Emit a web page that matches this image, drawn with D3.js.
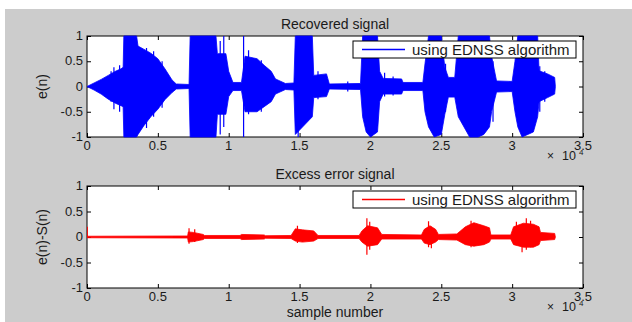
<!DOCTYPE html>
<html>
<head>
<meta charset="utf-8">
<script src="https://cdn.jsdelivr.net/npm/d3@7/dist/d3.min.js"></script>
<style>
    body { margin: 0; background: #ffffff; }
    text { font-family: Arial, 'Liberation Sans', sans-serif; fill: #1a1a1a; }
</style>
</head>
<body>
<svg id="chart" width="632" height="322"></svg>
<script>
// x ticks (in units of 1e4 samples) and y ticks
const xTicks = [0, 0.5, 1, 1.5, 2, 2.5, 3, 3.5];
const yTicks = [-1, -0.5, 0, 0.5, 1];

// recovered signal envelope (sample, upper, lower)
const recX = [0, 500, 1000, 1500, 2000, 2400, 2550, 2600, 3500, 3600, 4000, 4500, 5000, 5500, 6000, 6300, 7200, 7280,
    9100, 9200, 9800, 10000, 10300, 10900, 11150, 12000, 12500, 13000, 13300, 14000, 14600, 14700, 15900, 16000, 16900,
    17100, 19300, 19450, 19700, 20000, 20500, 20650, 20900, 22200, 22300, 23700, 23850, 24100, 24500, 25000, 25250,
    25500, 25950, 26200, 26600, 27000, 27600, 28000, 28400, 28550, 28900, 30000, 30200, 30400, 30700, 31500, 31800,
    31900, 32500, 33000, 33050];
const recTop = [0, 0.07, 0.14, 0.22, 0.3, 0.35, 0.38, 1, 1, 0.8, 0.74, 0.66, 0.55, 0.35, 0.13, 0.05, 0.04, 1,
    1, 0.65, 0.65, 0.3, 0.08, 0.08, 0.6, 0.55, 0.42, 0.3, 0.15, 0.06, 0.07, 1, 1, 0.22, 0.25,
    0.05, 0.06, 1, 1, 1, 1, 0.3, 0.16, 0.15, 0.08, 0.08, 0.45, 1, 1, 1, 0.38,
    0.18, 0.18, 1, 1, 1, 1, 1, 1, 0.6, 0.11, 0.1, 0.5, 1, 1, 1, 1,
    0.31, 0.25, 0.18, 0];
const recBottom = [0, -0.07, -0.15, -0.25, -0.33, -0.38, -0.4, -1, -1, -0.95, -0.78, -0.6, -0.45, -0.26, -0.12, -0.05, -0.04, -1,
    -1, -0.55, -0.55, -0.2, -0.08, -0.08, -0.5, -0.5, -0.4, -0.3, -0.15, -0.06, -0.07, -0.95, -0.6, -0.22, -0.2,
    -0.05, -0.06, -0.6, -0.9, -1, -0.9, -0.3, -0.15, -0.15, -0.08, -0.08, -0.5, -0.8, -1, -0.95, -0.55,
    -0.21, -0.21, -0.6, -0.8, -1, -1, -0.95, -0.8, -0.5, -0.11, -0.1, -0.5, -0.8, -1, -0.9, -0.6,
    -0.3, -0.22, -0.15, 0];
// isolated spikes in the recovered signal (sample, lower, upper)
const recSpikes = [[1700, -0.3, 0.3], [1900, -0.45, 0.38], [2300, -0.5, 0.42], [4200, -0.82, 0.76], [4700, -0.6, 0.7],
    [5300, -0.42, 0.5], [8950, -0.8, 0.9], [9400, -0.95, 0.9], [9650, -0.8, 1], [11050, -1, 1], [11400, -0.55, 0.72],
    [12300, -0.5, 0.52], [14900, -1, 1], [16300, -0.25, 0.3], [18400, -0.1, 0.1], [21000, -0.2, 0.27],
    [21600, -0.18, 0.2], [25300, -0.5, 0.45], [28650, -0.7, 0.5], [31950, -0.5, 0.4], [32300, -0.3, 0.3]];

// excess error envelope (sample, upper, lower)
const errX = [0, 7100, 7150, 7500, 8200, 8300, 10800, 10900, 12500, 12600, 14400, 14700, 15200, 16000, 16300, 19200,
    19400, 19800, 20500, 20800, 23600, 23800, 24200, 24600, 24800, 26100, 26700, 27300, 28000, 28400, 28500, 29900,
    30100, 30800, 31500, 31900, 32000, 33000, 33050];
const errTop = [0.015, 0.02, 0.1, 0.09, 0.05, 0.03, 0.03, 0.05, 0.04, 0.025, 0.03, 0.16, 0.14, 0.12, 0.03, 0.03,
    0.12, 0.22, 0.18, 0.05, 0.04, 0.15, 0.22, 0.15, 0.05, 0.06, 0.2, 0.28, 0.22, 0.18, 0.04, 0.04,
    0.2, 0.27, 0.25, 0.2, 0.09, 0.07, 0];
const errBottom = [-0.015, -0.02, -0.1, -0.09, -0.05, -0.03, -0.03, -0.05, -0.04, -0.025, -0.03, -0.08, -0.1, -0.08, -0.03, -0.03,
    -0.1, -0.18, -0.15, -0.04, -0.04, -0.12, -0.15, -0.1, -0.05, -0.06, -0.15, -0.18, -0.15, -0.1, -0.04, -0.04,
    -0.15, -0.2, -0.2, -0.15, -0.07, -0.05, 0];
const errSpikes = [[20, -0.02, 0.2], [7200, -0.13, 0.17], [7600, -0.1, 0.15], [14850, -0.12, 0.22], [19750, -0.35, 0.37],
    [19950, -0.25, 0.3], [24100, -0.2, 0.31], [24300, -0.22, 0.2], [27100, -0.2, 0.32], [30300, -0.15, 0.3],
    [30700, -0.3, 0.2], [31000, -0.25, 0.37], [31300, -0.2, 0.32]];

const svg = d3.select('#chart');

// matlab figure background
svg.append('rect')
    .attr('x', 5)
    .attr('y', 9)
    .attr('width', 627)
    .attr('height', 313)
    .attr('fill', '#cccccc');

function drawPanel(opts) {
    const { top, bottom, xs, upper, lower, spikes, color, title, ylabel } = opts;
    const left = 87, right = 583;

    const x = d3.scaleLinear().domain([0, 35000]).range([left, right]);
    const y = d3.scaleLinear().domain([-1, 1]).range([bottom, top]);

    const g = svg.append('g');

    g.append('rect')
        .attr('x', left)
        .attr('y', top)
        .attr('width', right - left)
        .attr('height', bottom - top)
        .attr('fill', '#ffffff');

    // ticks on all four sides, pointing inward
    const xAxisB = d3.axisBottom(x).tickValues(xTicks.map(d => d * 1e4)).tickSize(-4).tickFormat('');
    const xAxisT = d3.axisTop(x).tickValues(xTicks.map(d => d * 1e4)).tickSize(-4).tickFormat('');
    const yAxisL = d3.axisLeft(y).tickValues(yTicks).tickSize(-4).tickFormat('');
    const yAxisR = d3.axisRight(y).tickValues(yTicks).tickSize(-4).tickFormat('');

    [[xAxisB, `translate(0,${bottom})`], [xAxisT, `translate(0,${top})`],
     [yAxisL, `translate(${left},0)`], [yAxisR, `translate(${right},0)`]].forEach(([ax, tr]) => {
        const a = g.append('g').attr('transform', tr).call(ax);
        a.select('.domain').remove();
        a.selectAll('line').attr('stroke', '#000');
    });

    // tick labels
    g.selectAll('text.xt')
        .data(xTicks)
        .enter()
        .append('text')
        .attr('class', 'xt')
        .attr('x', d => x(d * 1e4))
        .attr('y', bottom + 12.5)
        .attr('text-anchor', 'middle')
        .attr('font-size', 13)
        .text(d => d);

    g.selectAll('text.yt')
        .data(yTicks)
        .enter()
        .append('text')
        .attr('class', 'yt')
        .attr('x', left - 4)
        .attr('y', d => y(d) + 4)
        .attr('text-anchor', 'end')
        .attr('font-size', 13)
        .text(d => d);

    // box
    g.append('rect')
        .attr('x', left)
        .attr('y', top)
        .attr('width', right - left)
        .attr('height', bottom - top)
        .attr('fill', 'none')
        .attr('stroke', '#000')
        .attr('stroke-width', 1);

    // signal
    const clipId = 'clip-' + top;
    svg.append('clipPath')
        .attr('id', clipId)
        .append('rect')
        .attr('x', left)
        .attr('y', top - 1.5)
        .attr('width', right - left)
        .attr('height', bottom - top + 3);

    const sig = g.append('g').attr('clip-path', `url(#${clipId})`);

    const area = d3.area()
        .x(d => x(xs[d]))
        .y0(d => y(lower[d]))
        .y1(d => y(upper[d]));

    sig.append('path')
        .attr('d', area(d3.range(xs.length)))
        .attr('fill', color)
        .attr('stroke', color)
        .attr('stroke-width', 0.8);

    sig.selectAll('line.spike')
        .data(spikes)
        .enter()
        .append('line')
        .attr('class', 'spike')
        .attr('x1', d => x(d[0]))
        .attr('x2', d => x(d[0]))
        .attr('y1', d => y(d[1]))
        .attr('y2', d => y(d[2]))
        .attr('stroke', color)
        .attr('stroke-width', 1.2);

    // title
    g.append('text')
        .attr('x', (left + right) / 2)
        .attr('y', top - 7)
        .attr('text-anchor', 'middle')
        .attr('font-size', 14)
        .text(title);

    // y label
    g.append('text')
        .attr('transform', `translate(47,${(top + bottom) / 2}) rotate(-90)`)
        .attr('text-anchor', 'middle')
        .attr('font-size', 14)
        .text(ylabel);

    // x 10^4 exponent, under the last tick label
    g.append('text')
        .attr('x', 547)
        .attr('y', bottom + 23)
        .attr('font-size', 12)
        .text('\u00d7');
    g.append('text')
        .attr('x', 562)
        .attr('y', bottom + 23)
        .attr('font-size', 12.5)
        .text('10');
    g.append('text')
        .attr('x', 579)
        .attr('y', bottom + 18)
        .attr('font-size', 8)
        .text('4');

    // legend
    const lg = g.append('g').attr('transform', `translate(353,${top + 5})`);
    lg.append('rect')
        .attr('width', 223)
        .attr('height', 17)
        .attr('fill', '#ffffff')
        .attr('stroke', '#000');
    lg.append('line')
        .attr('x1', 9)
        .attr('x2', 52)
        .attr('y1', 8.5)
        .attr('y2', 8.5)
        .attr('stroke', color)
        .attr('stroke-width', 1.3);
    lg.append('text')
        .attr('x', 59)
        .attr('y', 13.5)
        .attr('font-size', 15)
        .text('using EDNSS algorithm');

    return g;
}

drawPanel({
    top: 36, bottom: 137,
    xs: recX, upper: recTop, lower: recBottom, spikes: recSpikes,
    color: '#0000ff', title: 'Recovered signal', ylabel: 'e(n)'
});

drawPanel({
    top: 186, bottom: 288,
    xs: errX, upper: errTop, lower: errBottom, spikes: errSpikes,
    color: '#ff0000', title: 'Excess error signal', ylabel: 'e(n)-S(n)'
});

// x label of the bottom panel
svg.append('text')
    .attr('x', 335)
    .attr('y', 317)
    .attr('text-anchor', 'middle')
    .attr('font-size', 14)
    .text('sample number');
</script>
</body>
</html>
